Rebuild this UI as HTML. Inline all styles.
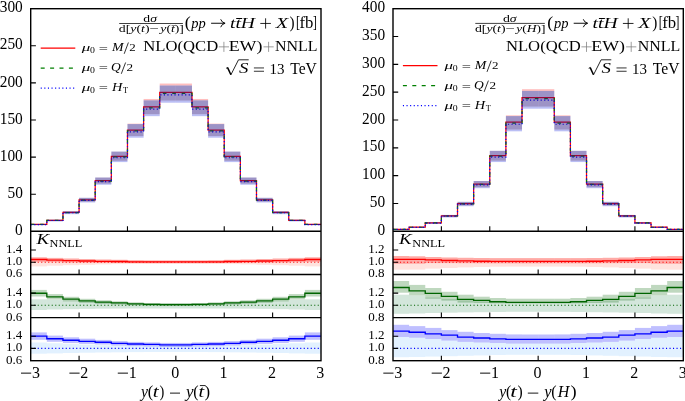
<!DOCTYPE html>
<html><head><meta charset="utf-8"><style>
html,body{margin:0;padding:0;background:#fff;}
svg{display:block;will-change:transform;}
text{font-family:"Liberation Serif",serif;fill:#000;}
</style></head><body>
<svg width="685" height="401" viewBox="0 0 685 401">
<rect width="685" height="401" fill="#fff"/>
<path d="M30.7,224.4H46.83V220.3H62.96V212.4H79.08V199.8H95.21V180.7H111.34V156.3H127.47V130H143.59V106.8H159.72V92.3H175.85V92.3H191.98V106.8H208.11V130H224.23V156.3H240.36V180.7H256.49V199.8H272.62V212.4H288.74V220.3H304.87V224.4H321" fill="none" stroke="#ff0000" stroke-width="1.25"/>
<path d="M30.7,224.46H46.83V220.39H62.96V212.55H79.08V200.05H95.21V181.1H111.34V156.9H127.47V130.81H143.59V107.8H159.72V93.41H175.85V93.41H191.98V107.8H208.11V130.81H224.23V156.9H240.36V181.1H256.49V200.05H272.62V212.55H288.74V220.39H304.87V224.46H321" fill="none" stroke="#008000" stroke-width="1.2" stroke-dasharray="3.6,5.8"/>
<path d="M30.7,224.53H46.83V220.51H62.96V212.76H79.08V200.4H95.21V181.66H111.34V157.73H127.47V131.92H143.59V109.17H159.72V94.94H175.85V94.94H191.98V109.17H208.11V131.92H224.23V157.73H240.36V181.66H256.49V200.4H272.62V212.76H288.74V220.51H304.87V224.53H321" fill="none" stroke="#0000ff" stroke-width="1.2" stroke-dasharray="1.2,2.35"/>
<g fill="#ff0000" fill-opacity="0.255"><rect x="30.7" y="223.97" width="16.13" height="0"/><rect x="46.83" y="219.61" width="16.13" height="0"/><rect x="62.96" y="211.21" width="16.13" height="0"/><rect x="79.08" y="197.82" width="16.13" height="0"/><rect x="95.21" y="177.51" width="16.13" height="0"/><rect x="111.34" y="151.58" width="16.13" height="0"/><rect x="127.47" y="123.62" width="16.13" height="0.45"/><rect x="143.59" y="98.96" width="16.13" height="1.38"/><rect x="159.72" y="83.54" width="16.13" height="1.96"/><rect x="175.85" y="83.54" width="16.13" height="1.96"/><rect x="191.98" y="98.96" width="16.13" height="1.38"/><rect x="208.11" y="123.62" width="16.13" height="0.45"/><rect x="224.23" y="151.58" width="16.13" height="0"/><rect x="240.36" y="177.51" width="16.13" height="0"/><rect x="256.49" y="197.82" width="16.13" height="0"/><rect x="272.62" y="211.21" width="16.13" height="0"/><rect x="288.74" y="219.61" width="16.13" height="0"/><rect x="304.87" y="223.97" width="16.13" height="0"/></g>
<g fill="#250f80" fill-opacity="0.45"><rect x="30.7" y="223.97" width="16.13" height="0.85"/><rect x="46.83" y="219.61" width="16.13" height="1.35"/><rect x="62.96" y="211.21" width="16.13" height="2.32"/><rect x="79.08" y="197.82" width="16.13" height="3.87"/><rect x="95.21" y="177.51" width="16.13" height="6.22"/><rect x="111.34" y="151.58" width="16.13" height="9.22"/><rect x="127.47" y="124.07" width="16.13" height="12.01"/><rect x="143.59" y="100.34" width="16.13" height="13.93"/><rect x="159.72" y="85.5" width="16.13" height="15.14"/><rect x="175.85" y="85.5" width="16.13" height="15.14"/><rect x="191.98" y="100.34" width="16.13" height="13.93"/><rect x="208.11" y="124.07" width="16.13" height="12.01"/><rect x="224.23" y="151.58" width="16.13" height="9.22"/><rect x="240.36" y="177.51" width="16.13" height="6.22"/><rect x="256.49" y="197.82" width="16.13" height="3.87"/><rect x="272.62" y="211.21" width="16.13" height="2.32"/><rect x="288.74" y="219.61" width="16.13" height="1.35"/><rect x="304.87" y="223.97" width="16.13" height="0.85"/></g>
<g fill="#000ed8" fill-opacity="0.27"><rect x="30.7" y="224.81" width="16.13" height="0.48"/><rect x="46.83" y="220.96" width="16.13" height="0.53"/><rect x="62.96" y="213.53" width="16.13" height="0.63"/><rect x="79.08" y="201.69" width="16.13" height="0.78"/><rect x="95.21" y="183.74" width="16.13" height="1.01"/><rect x="111.34" y="160.8" width="16.13" height="1.3"/><rect x="127.47" y="136.08" width="16.13" height="1.62"/><rect x="143.59" y="114.27" width="16.13" height="1.89"/><rect x="159.72" y="100.64" width="16.13" height="2.07"/><rect x="175.85" y="100.64" width="16.13" height="2.07"/><rect x="191.98" y="114.27" width="16.13" height="1.89"/><rect x="208.11" y="136.08" width="16.13" height="1.62"/><rect x="224.23" y="160.8" width="16.13" height="1.3"/><rect x="240.36" y="183.74" width="16.13" height="1.01"/><rect x="256.49" y="201.69" width="16.13" height="0.78"/><rect x="272.62" y="213.53" width="16.13" height="0.63"/><rect x="288.74" y="220.96" width="16.13" height="0.53"/><rect x="304.87" y="224.81" width="16.13" height="0.48"/></g>
<g fill="#ff6347" fill-opacity="0.18"><rect x="30.7" y="257.3" width="16.13" height="9.1"/><rect x="46.83" y="257.9" width="16.13" height="7.8"/><rect x="62.96" y="258.5" width="16.13" height="6.7"/><rect x="79.08" y="259" width="16.13" height="5.8"/><rect x="95.21" y="259.5" width="16.13" height="4.9"/><rect x="111.34" y="259.8" width="16.13" height="4.3"/><rect x="127.47" y="260.2" width="16.13" height="3.7"/><rect x="143.59" y="260.4" width="16.13" height="3.4"/><rect x="159.72" y="260.4" width="16.13" height="3.4"/><rect x="175.85" y="260.4" width="16.13" height="3.4"/><rect x="191.98" y="260.4" width="16.13" height="3.4"/><rect x="208.11" y="260.2" width="16.13" height="3.7"/><rect x="224.23" y="259.8" width="16.13" height="4.3"/><rect x="240.36" y="259.5" width="16.13" height="4.9"/><rect x="256.49" y="259" width="16.13" height="5.8"/><rect x="272.62" y="258.5" width="16.13" height="6.7"/><rect x="288.74" y="257.9" width="16.13" height="7.8"/><rect x="304.87" y="257.3" width="16.13" height="9.1"/></g>
<g fill="#ff0000" fill-opacity="0.25"><rect x="30.7" y="257.3" width="16.13" height="4.6"/><rect x="46.83" y="257.9" width="16.13" height="4.2"/><rect x="62.96" y="258.5" width="16.13" height="3.9"/><rect x="79.08" y="259" width="16.13" height="3.6"/><rect x="95.21" y="259.5" width="16.13" height="3.4"/><rect x="111.34" y="259.8" width="16.13" height="3.2"/><rect x="127.47" y="260.2" width="16.13" height="2.9"/><rect x="143.59" y="260.4" width="16.13" height="2.8"/><rect x="159.72" y="260.4" width="16.13" height="2.8"/><rect x="175.85" y="260.4" width="16.13" height="2.8"/><rect x="191.98" y="260.4" width="16.13" height="2.8"/><rect x="208.11" y="260.2" width="16.13" height="2.9"/><rect x="224.23" y="259.8" width="16.13" height="3.2"/><rect x="240.36" y="259.5" width="16.13" height="3.4"/><rect x="256.49" y="259" width="16.13" height="3.6"/><rect x="272.62" y="258.5" width="16.13" height="3.9"/><rect x="288.74" y="257.9" width="16.13" height="4.2"/><rect x="304.87" y="257.3" width="16.13" height="4.6"/></g>
<line x1="30.7" y1="262.2" x2="321" y2="262.2" stroke="#ff0000" stroke-width="1.1" stroke-dasharray="1.1,2.4"/>
<path d="M30.7,259.5H46.83V260.1H62.96V260.6H79.08V261H95.21V261.4H111.34V261.5H127.47V261.8H143.59V261.9H159.72V261.9H175.85V261.9H191.98V261.9H208.11V261.8H224.23V261.5H240.36V261.4H256.49V261H272.62V260.6H288.74V260.1H304.87V259.5H321" fill="none" stroke="#ff0000" stroke-width="1.35"/>
<path d="M30.7,262.2h5.2M30.7,250h5.2" stroke="#000" stroke-width="1.1" fill="none"/>
<path d="M79.08,274.5v-5M127.47,274.5v-5M175.85,274.5v-5M224.23,274.5v-5M272.62,274.5v-5" stroke="#000" stroke-width="1.1" fill="none"/>
<g fill="#2e8b57" fill-opacity="0.21"><rect x="30.7" y="299.3" width="16.13" height="10.7"/><rect x="46.83" y="299.8" width="16.13" height="9.7"/><rect x="62.96" y="300.5" width="16.13" height="8.7"/><rect x="79.08" y="301.2" width="16.13" height="7.7"/><rect x="95.21" y="301.8" width="16.13" height="6.9"/><rect x="111.34" y="302.4" width="16.13" height="6.2"/><rect x="127.47" y="303" width="16.13" height="5.5"/><rect x="143.59" y="303.4" width="16.13" height="5.1"/><rect x="159.72" y="303.5" width="16.13" height="5"/><rect x="175.85" y="303.5" width="16.13" height="5"/><rect x="191.98" y="303.4" width="16.13" height="5.1"/><rect x="208.11" y="303" width="16.13" height="5.5"/><rect x="224.23" y="302.4" width="16.13" height="6.2"/><rect x="240.36" y="301.8" width="16.13" height="6.9"/><rect x="256.49" y="301.2" width="16.13" height="7.7"/><rect x="272.62" y="300.5" width="16.13" height="8.7"/><rect x="288.74" y="299.8" width="16.13" height="9.7"/><rect x="304.87" y="299.3" width="16.13" height="10.7"/></g>
<g fill="#006400" fill-opacity="0.25"><rect x="30.7" y="289.9" width="16.13" height="6.6"/><rect x="46.83" y="294.1" width="16.13" height="5.4"/><rect x="62.96" y="296.8" width="16.13" height="4.6"/><rect x="79.08" y="298.8" width="16.13" height="4"/><rect x="95.21" y="300.3" width="16.13" height="3.6"/><rect x="111.34" y="301.3" width="16.13" height="3.2"/><rect x="127.47" y="302.3" width="16.13" height="3"/><rect x="143.59" y="303" width="16.13" height="2.8"/><rect x="159.72" y="303.2" width="16.13" height="2.8"/><rect x="175.85" y="303.2" width="16.13" height="2.8"/><rect x="191.98" y="303" width="16.13" height="2.8"/><rect x="208.11" y="302.3" width="16.13" height="3"/><rect x="224.23" y="301.3" width="16.13" height="3.2"/><rect x="240.36" y="300.3" width="16.13" height="3.6"/><rect x="256.49" y="298.8" width="16.13" height="4"/><rect x="272.62" y="296.8" width="16.13" height="4.6"/><rect x="288.74" y="294.1" width="16.13" height="5.4"/><rect x="304.87" y="289.9" width="16.13" height="6.6"/></g>
<line x1="30.7" y1="305.3" x2="321" y2="305.3" stroke="#006400" stroke-width="1.1" stroke-dasharray="1.1,2.4"/>
<path d="M30.7,293.2H46.83V296.8H62.96V299.1H79.08V300.8H95.21V302.1H111.34V302.9H127.47V303.8H143.59V304.4H159.72V304.6H175.85V304.6H191.98V304.4H208.11V303.8H224.23V302.9H240.36V302.1H256.49V300.8H272.62V299.1H288.74V296.8H304.87V293.2H321" fill="none" stroke="#006400" stroke-width="1.35"/>
<path d="M30.7,305.3h5.2M30.7,293.1h5.2" stroke="#000" stroke-width="1.1" fill="none"/>
<path d="M79.08,317.6v-5M127.47,317.6v-5M175.85,317.6v-5M224.23,317.6v-5M272.62,317.6v-5" stroke="#000" stroke-width="1.1" fill="none"/>
<g fill="#1e90ff" fill-opacity="0.13"><rect x="30.7" y="342.5" width="16.13" height="11.2"/><rect x="46.83" y="343.2" width="16.13" height="10.2"/><rect x="62.96" y="344" width="16.13" height="9"/><rect x="79.08" y="344.6" width="16.13" height="8.1"/><rect x="95.21" y="345.2" width="16.13" height="7.3"/><rect x="111.34" y="345.6" width="16.13" height="6.7"/><rect x="127.47" y="345.9" width="16.13" height="6.2"/><rect x="143.59" y="346" width="16.13" height="6"/><rect x="159.72" y="346" width="16.13" height="6"/><rect x="175.85" y="346" width="16.13" height="6"/><rect x="191.98" y="346" width="16.13" height="6"/><rect x="208.11" y="345.9" width="16.13" height="6.2"/><rect x="224.23" y="345.6" width="16.13" height="6.7"/><rect x="240.36" y="345.2" width="16.13" height="7.3"/><rect x="256.49" y="344.6" width="16.13" height="8.1"/><rect x="272.62" y="344" width="16.13" height="9"/><rect x="288.74" y="343.2" width="16.13" height="10.2"/><rect x="304.87" y="342.5" width="16.13" height="11.2"/></g>
<g fill="#0000ff" fill-opacity="0.25"><rect x="30.7" y="332.4" width="16.13" height="7.4"/><rect x="46.83" y="335.6" width="16.13" height="6.2"/><rect x="62.96" y="337.3" width="16.13" height="5.8"/><rect x="79.08" y="338.7" width="16.13" height="5.2"/><rect x="95.21" y="339.9" width="16.13" height="4.6"/><rect x="111.34" y="341.1" width="16.13" height="4.4"/><rect x="127.47" y="341.9" width="16.13" height="4.2"/><rect x="143.59" y="342.4" width="16.13" height="4"/><rect x="159.72" y="342.9" width="16.13" height="4"/><rect x="175.85" y="342.9" width="16.13" height="4"/><rect x="191.98" y="342.4" width="16.13" height="4"/><rect x="208.11" y="341.9" width="16.13" height="4.2"/><rect x="224.23" y="341.1" width="16.13" height="4.4"/><rect x="240.36" y="339.9" width="16.13" height="4.6"/><rect x="256.49" y="338.7" width="16.13" height="5.2"/><rect x="272.62" y="337.3" width="16.13" height="5.8"/><rect x="288.74" y="335.6" width="16.13" height="6.2"/><rect x="304.87" y="332.4" width="16.13" height="7.4"/></g>
<line x1="30.7" y1="348.4" x2="321" y2="348.4" stroke="#0000ff" stroke-width="1.1" stroke-dasharray="1.1,2.4"/>
<path d="M30.7,336.1H46.83V338.7H62.96V340.2H79.08V341.3H95.21V342.2H111.34V343.3H127.47V344H143.59V344.4H159.72V344.9H175.85V344.9H191.98V344.4H208.11V344H224.23V343.3H240.36V342.2H256.49V341.3H272.62V340.2H288.74V338.7H304.87V336.1H321" fill="none" stroke="#0000ff" stroke-width="1.35"/>
<path d="M30.7,348.4h5.2M30.7,336.2h5.2" stroke="#000" stroke-width="1.1" fill="none"/>
<path d="M79.08,360.7v-5M127.47,360.7v-5M175.85,360.7v-5M224.23,360.7v-5M272.62,360.7v-5" stroke="#000" stroke-width="1.1" fill="none"/>
<path d="M30.7,194.2h5.2M30.7,157.1h5.2M30.7,120h5.2M30.7,82.9h5.2M30.7,45.8h5.2M79.08,231.3v-5M127.47,231.3v-5M175.85,231.3v-5M224.23,231.3v-5M272.62,231.3v-5" stroke="#000" stroke-width="1.1" fill="none"/>
<rect x="30.7" y="8.7" width="290.3" height="352" fill="none" stroke="#000" stroke-width="1.4"/>
<line x1="30.7" y1="231.3" x2="321" y2="231.3" stroke="#000" stroke-width="1.4"/>
<line x1="30.7" y1="274.5" x2="321" y2="274.5" stroke="#000" stroke-width="1.4"/>
<line x1="30.7" y1="317.6" x2="321" y2="317.6" stroke="#000" stroke-width="1.4"/>
<path d="M393,229.4H409.13V227.2H425.26V222.9H441.38V215.9H457.51V203.6H473.64V184H489.77V155.6H505.89V122.2H522.02V97.6H538.15V97.6H554.28V122.2H570.41V155.6H586.53V184H602.66V203.6H618.79V215.9H634.92V222.9H651.04V227.2H667.17V229.4H683.3" fill="none" stroke="#ff0000" stroke-width="1.25"/>
<path d="M393,229.42H409.13V227.23H425.26V222.97H441.38V216.02H457.51V203.82H473.64V184.38H489.77V156.21H505.89V123.07H522.02V98.67H538.15V98.67H554.28V123.07H570.41V156.21H586.53V184.38H602.66V203.82H618.79V216.02H634.92V222.97H651.04V227.23H667.17V229.42H683.3" fill="none" stroke="#008000" stroke-width="1.2" stroke-dasharray="3.6,5.8"/>
<path d="M393,229.44H409.13V227.28H425.26V223.06H441.38V216.19H457.51V204.13H473.64V184.9H489.77V157.04H505.89V124.27H522.02V100.14H538.15V100.14H554.28V124.27H570.41V157.04H586.53V184.9H602.66V204.13H618.79V216.19H634.92V223.06H651.04V227.28H667.17V229.44H683.3" fill="none" stroke="#0000ff" stroke-width="1.2" stroke-dasharray="1.2,2.35"/>
<g fill="#ff0000" fill-opacity="0.255"><rect x="393" y="229.28" width="16.13" height="0"/><rect x="409.13" y="226.94" width="16.13" height="0"/><rect x="425.26" y="222.37" width="16.13" height="0"/><rect x="441.38" y="214.93" width="16.13" height="0"/><rect x="457.51" y="201.85" width="16.13" height="0"/><rect x="473.64" y="181.02" width="16.13" height="0"/><rect x="489.77" y="150.83" width="16.13" height="0"/><rect x="505.89" y="115.33" width="16.13" height="0.76"/><rect x="522.02" y="89.18" width="16.13" height="1.75"/><rect x="538.15" y="89.18" width="16.13" height="1.75"/><rect x="554.28" y="115.33" width="16.13" height="0.76"/><rect x="570.41" y="150.83" width="16.13" height="0"/><rect x="586.53" y="181.02" width="16.13" height="0"/><rect x="602.66" y="201.85" width="16.13" height="0"/><rect x="618.79" y="214.93" width="16.13" height="0"/><rect x="634.92" y="222.37" width="16.13" height="0"/><rect x="651.04" y="226.94" width="16.13" height="0"/><rect x="667.17" y="229.28" width="16.13" height="0"/></g>
<g fill="#250f80" fill-opacity="0.45"><rect x="393" y="229.28" width="16.13" height="0.25"/><rect x="409.13" y="226.94" width="16.13" height="0.54"/><rect x="425.26" y="222.37" width="16.13" height="1.1"/><rect x="441.38" y="214.93" width="16.13" height="2.02"/><rect x="457.51" y="201.85" width="16.13" height="3.63"/><rect x="473.64" y="181.02" width="16.13" height="6.2"/><rect x="489.77" y="150.83" width="16.13" height="9.92"/><rect x="505.89" y="116.09" width="16.13" height="13.53"/><rect x="522.02" y="90.92" width="16.13" height="15.77"/><rect x="538.15" y="90.92" width="16.13" height="15.77"/><rect x="554.28" y="116.09" width="16.13" height="13.53"/><rect x="570.41" y="150.83" width="16.13" height="9.92"/><rect x="586.53" y="181.02" width="16.13" height="6.2"/><rect x="602.66" y="201.85" width="16.13" height="3.63"/><rect x="618.79" y="214.93" width="16.13" height="2.02"/><rect x="634.92" y="222.37" width="16.13" height="1.1"/><rect x="651.04" y="226.94" width="16.13" height="0.54"/><rect x="667.17" y="229.28" width="16.13" height="0.25"/></g>
<g fill="#000ed8" fill-opacity="0.27"><rect x="393" y="229.53" width="16.13" height="0.42"/><rect x="409.13" y="227.48" width="16.13" height="0.45"/><rect x="425.26" y="223.47" width="16.13" height="0.5"/><rect x="441.38" y="216.95" width="16.13" height="0.58"/><rect x="457.51" y="205.48" width="16.13" height="0.73"/><rect x="473.64" y="187.22" width="16.13" height="0.97"/><rect x="489.77" y="160.75" width="16.13" height="1.31"/><rect x="505.89" y="129.62" width="16.13" height="1.71"/><rect x="522.02" y="106.69" width="16.13" height="2"/><rect x="538.15" y="106.69" width="16.13" height="2"/><rect x="554.28" y="129.62" width="16.13" height="1.71"/><rect x="570.41" y="160.75" width="16.13" height="1.31"/><rect x="586.53" y="187.22" width="16.13" height="0.97"/><rect x="602.66" y="205.48" width="16.13" height="0.73"/><rect x="618.79" y="216.95" width="16.13" height="0.58"/><rect x="634.92" y="223.47" width="16.13" height="0.5"/><rect x="651.04" y="227.48" width="16.13" height="0.45"/><rect x="667.17" y="229.53" width="16.13" height="0.42"/></g>
<g fill="#ff6347" fill-opacity="0.18"><rect x="393" y="256" width="16.13" height="13.7"/><rect x="409.13" y="256.3" width="16.13" height="13.3"/><rect x="425.26" y="257" width="16.13" height="11.6"/><rect x="441.38" y="257.5" width="16.13" height="10.5"/><rect x="457.51" y="257.8" width="16.13" height="9.6"/><rect x="473.64" y="258" width="16.13" height="9"/><rect x="489.77" y="258.1" width="16.13" height="8.6"/><rect x="505.89" y="258.1" width="16.13" height="8.5"/><rect x="522.02" y="258.1" width="16.13" height="8.5"/><rect x="538.15" y="258.1" width="16.13" height="8.5"/><rect x="554.28" y="258.1" width="16.13" height="8.5"/><rect x="570.41" y="258.1" width="16.13" height="8.6"/><rect x="586.53" y="258" width="16.13" height="9"/><rect x="602.66" y="257.8" width="16.13" height="9.6"/><rect x="618.79" y="257.5" width="16.13" height="10.5"/><rect x="634.92" y="257" width="16.13" height="11.6"/><rect x="651.04" y="256.3" width="16.13" height="13.3"/><rect x="667.17" y="256" width="16.13" height="13.7"/></g>
<g fill="#ff0000" fill-opacity="0.25"><rect x="393" y="256" width="16.13" height="7.9"/><rect x="409.13" y="256.3" width="16.13" height="7.5"/><rect x="425.26" y="257" width="16.13" height="6.1"/><rect x="441.38" y="257.5" width="16.13" height="5.6"/><rect x="457.51" y="257.8" width="16.13" height="5.4"/><rect x="473.64" y="258" width="16.13" height="5.3"/><rect x="489.77" y="258.1" width="16.13" height="5.3"/><rect x="505.89" y="258.1" width="16.13" height="5.3"/><rect x="522.02" y="258.1" width="16.13" height="5.3"/><rect x="538.15" y="258.1" width="16.13" height="5.3"/><rect x="554.28" y="258.1" width="16.13" height="5.3"/><rect x="570.41" y="258.1" width="16.13" height="5.3"/><rect x="586.53" y="258" width="16.13" height="5.3"/><rect x="602.66" y="257.8" width="16.13" height="5.4"/><rect x="618.79" y="257.5" width="16.13" height="5.6"/><rect x="634.92" y="257" width="16.13" height="6.1"/><rect x="651.04" y="256.3" width="16.13" height="7.5"/><rect x="667.17" y="256" width="16.13" height="7.9"/></g>
<line x1="393" y1="262.2" x2="683.3" y2="262.2" stroke="#ff0000" stroke-width="1.1" stroke-dasharray="1.1,2.4"/>
<path d="M393,259.3H409.13V259.3H425.26V259.9H441.38V260.5H457.51V260.9H473.64V261.2H489.77V261.4H505.89V261.4H522.02V261.4H538.15V261.4H554.28V261.4H570.41V261.4H586.53V261.2H602.66V260.9H618.79V260.5H634.92V259.9H651.04V259.3H667.17V259.3H683.3" fill="none" stroke="#ff0000" stroke-width="1.35"/>
<path d="M393,262.2h5.2M393,250h5.2" stroke="#000" stroke-width="1.1" fill="none"/>
<path d="M441.38,274.5v-5M489.77,274.5v-5M538.15,274.5v-5M586.53,274.5v-5M634.92,274.5v-5" stroke="#000" stroke-width="1.1" fill="none"/>
<g fill="#2e8b57" fill-opacity="0.21"><rect x="393" y="294.7" width="16.13" height="19.1"/><rect x="409.13" y="295.5" width="16.13" height="18"/><rect x="425.26" y="297.5" width="16.13" height="15.5"/><rect x="441.38" y="299" width="16.13" height="13.7"/><rect x="457.51" y="300.5" width="16.13" height="11.9"/><rect x="473.64" y="301.5" width="16.13" height="10.7"/><rect x="489.77" y="302.5" width="16.13" height="9.5"/><rect x="505.89" y="303.2" width="16.13" height="8.6"/><rect x="522.02" y="303.3" width="16.13" height="8.5"/><rect x="538.15" y="303.3" width="16.13" height="8.5"/><rect x="554.28" y="303.2" width="16.13" height="8.6"/><rect x="570.41" y="302.5" width="16.13" height="9.5"/><rect x="586.53" y="301.5" width="16.13" height="10.7"/><rect x="602.66" y="300.5" width="16.13" height="11.9"/><rect x="618.79" y="299" width="16.13" height="13.7"/><rect x="634.92" y="297.5" width="16.13" height="15.5"/><rect x="651.04" y="295.5" width="16.13" height="18"/><rect x="667.17" y="294.7" width="16.13" height="19.1"/></g>
<g fill="#006400" fill-opacity="0.25"><rect x="393" y="281" width="16.13" height="11.7"/><rect x="409.13" y="284.9" width="16.13" height="10.5"/><rect x="425.26" y="288" width="16.13" height="10.7"/><rect x="441.38" y="291.8" width="16.13" height="8.8"/><rect x="457.51" y="294.7" width="16.13" height="7.9"/><rect x="473.64" y="296.7" width="16.13" height="6.3"/><rect x="489.77" y="298" width="16.13" height="5.3"/><rect x="505.89" y="298.7" width="16.13" height="4.9"/><rect x="522.02" y="298.7" width="16.13" height="4.9"/><rect x="538.15" y="298.7" width="16.13" height="4.9"/><rect x="554.28" y="298.7" width="16.13" height="4.9"/><rect x="570.41" y="298" width="16.13" height="5.3"/><rect x="586.53" y="296.7" width="16.13" height="6.3"/><rect x="602.66" y="294.7" width="16.13" height="7.9"/><rect x="618.79" y="291.8" width="16.13" height="8.8"/><rect x="634.92" y="288" width="16.13" height="10.7"/><rect x="651.04" y="284.9" width="16.13" height="10.5"/><rect x="667.17" y="281" width="16.13" height="11.7"/></g>
<line x1="393" y1="305.3" x2="683.3" y2="305.3" stroke="#006400" stroke-width="1.1" stroke-dasharray="1.1,2.4"/>
<path d="M393,287.5H409.13V290.8H425.26V293.4H441.38V296.4H457.51V299.3H473.64V300.4H489.77V301.7H505.89V302.3H522.02V302.3H538.15V302.3H554.28V302.3H570.41V301.7H586.53V300.4H602.66V299.3H618.79V296.4H634.92V293.4H651.04V290.8H667.17V287.5H683.3" fill="none" stroke="#006400" stroke-width="1.35"/>
<path d="M393,305.3h5.2M393,293.1h5.2" stroke="#000" stroke-width="1.1" fill="none"/>
<path d="M441.38,317.6v-5M489.77,317.6v-5M538.15,317.6v-5M586.53,317.6v-5M634.92,317.6v-5" stroke="#000" stroke-width="1.1" fill="none"/>
<g fill="#1e90ff" fill-opacity="0.13"><rect x="393" y="337" width="16.13" height="20.2"/><rect x="409.13" y="337.7" width="16.13" height="19.3"/><rect x="425.26" y="339" width="16.13" height="17.6"/><rect x="441.38" y="340.6" width="16.13" height="15.6"/><rect x="457.51" y="341.9" width="16.13" height="13.9"/><rect x="473.64" y="342.5" width="16.13" height="12.9"/><rect x="489.77" y="343" width="16.13" height="12"/><rect x="505.89" y="343.6" width="16.13" height="11.2"/><rect x="522.02" y="343.6" width="16.13" height="11.2"/><rect x="538.15" y="343.6" width="16.13" height="11.2"/><rect x="554.28" y="343.6" width="16.13" height="11.2"/><rect x="570.41" y="343" width="16.13" height="12"/><rect x="586.53" y="342.5" width="16.13" height="12.9"/><rect x="602.66" y="341.9" width="16.13" height="13.9"/><rect x="618.79" y="340.6" width="16.13" height="15.6"/><rect x="634.92" y="339" width="16.13" height="17.6"/><rect x="651.04" y="337.7" width="16.13" height="19.3"/><rect x="667.17" y="337" width="16.13" height="20.2"/></g>
<g fill="#0000ff" fill-opacity="0.25"><rect x="393" y="324.8" width="16.13" height="12.2"/><rect x="409.13" y="326.1" width="16.13" height="11.6"/><rect x="425.26" y="327.9" width="16.13" height="11.1"/><rect x="441.38" y="330.1" width="16.13" height="10.5"/><rect x="457.51" y="331.8" width="16.13" height="10.1"/><rect x="473.64" y="333" width="16.13" height="9.5"/><rect x="489.77" y="333.8" width="16.13" height="9.2"/><rect x="505.89" y="334.4" width="16.13" height="9.2"/><rect x="522.02" y="334.5" width="16.13" height="9.1"/><rect x="538.15" y="334.5" width="16.13" height="9.1"/><rect x="554.28" y="334.4" width="16.13" height="9.2"/><rect x="570.41" y="333.8" width="16.13" height="9.2"/><rect x="586.53" y="333" width="16.13" height="9.5"/><rect x="602.66" y="331.8" width="16.13" height="10.1"/><rect x="618.79" y="330.1" width="16.13" height="10.5"/><rect x="634.92" y="327.9" width="16.13" height="11.1"/><rect x="651.04" y="326.1" width="16.13" height="11.6"/><rect x="667.17" y="324.8" width="16.13" height="12.2"/></g>
<line x1="393" y1="348.4" x2="683.3" y2="348.4" stroke="#0000ff" stroke-width="1.1" stroke-dasharray="1.1,2.4"/>
<path d="M393,331.1H409.13V332.2H425.26V333.8H441.38V335.1H457.51V337.1H473.64V338H489.77V338.8H505.89V339.3H522.02V339.4H538.15V339.4H554.28V339.3H570.41V338.8H586.53V338H602.66V337.1H618.79V335.1H634.92V333.8H651.04V332.2H667.17V331.1H683.3" fill="none" stroke="#0000ff" stroke-width="1.35"/>
<path d="M393,348.4h5.2M393,336.2h5.2" stroke="#000" stroke-width="1.1" fill="none"/>
<path d="M441.38,360.7v-5M489.77,360.7v-5M538.15,360.7v-5M586.53,360.7v-5M634.92,360.7v-5" stroke="#000" stroke-width="1.1" fill="none"/>
<path d="M393,203.48h5.2M393,175.65h5.2M393,147.83h5.2M393,120h5.2M393,92.17h5.2M393,64.35h5.2M393,36.52h5.2M441.38,231.3v-5M489.77,231.3v-5M538.15,231.3v-5M586.53,231.3v-5M634.92,231.3v-5" stroke="#000" stroke-width="1.1" fill="none"/>
<rect x="393" y="8.7" width="290.3" height="352" fill="none" stroke="#000" stroke-width="1.4"/>
<line x1="393" y1="231.3" x2="683.3" y2="231.3" stroke="#000" stroke-width="1.4"/>
<line x1="393" y1="274.5" x2="683.3" y2="274.5" stroke="#000" stroke-width="1.4"/>
<line x1="393" y1="317.6" x2="683.3" y2="317.6" stroke="#000" stroke-width="1.4"/>
<rect x="170.00" y="392.65" width="10.00" height="0.9"/>
<rect x="527.80" y="392.65" width="10.50" height="0.9"/>
<rect x="199.9" y="385.2" width="5.4" height="0.85"/>
<path d="M128.40,42.50L124.20,53.80" stroke="#000" stroke-width="0.8"/>
<path d="M125.60,62.50L121.30,73.80" stroke="#000" stroke-width="0.8"/>
<path d="M491.20,60.60L487.00,71.90" stroke="#000" stroke-width="0.8"/>
<path d="M488.40,80.60L484.10,91.90" stroke="#000" stroke-width="0.8"/>
<path d="M260.30,23.45H270.90M265.60,18.3V28.6" stroke="#000" stroke-width="0.85" fill="none"/>
<path d="M211.1,23.25H224.6M220.7,19.3Q221.6,22.4 225.1,23.25Q221.6,24.1 220.7,27.2" transform="translate(0,0)" fill="none" stroke="#000" stroke-width="0.95"/>
<path d="M218.80,46.85H229.00M223.90,41.8V51.9" stroke="#7d7d7d" stroke-width="0.75" fill="none"/>
<path d="M263.50,46.85H273.70M268.60,41.8V51.9" stroke="#7d7d7d" stroke-width="0.75" fill="none"/>
<g transform="translate(0,0)"><path d="M226.1,68.3L227.9,67.4" stroke="#000" stroke-width="0.9" fill="none"/><path d="M227.6,67.6L230.9,74.8" stroke="#000" stroke-width="1.5" fill="none"/><path d="M230.9,74.8L238.5,59.8H248.7" stroke="#000" stroke-width="0.85" fill="none"/></g>
<path d="M253.90,67.95H264.00M253.90,71.25H264.00" stroke="#000" stroke-width="0.8" fill="none"/>
<path d="M622.90,23.45H633.50M628.20,18.3V28.6" stroke="#000" stroke-width="0.85" fill="none"/>
<path d="M211.1,23.25H224.6M220.7,19.3Q221.6,22.4 225.1,23.25Q221.6,24.1 220.7,27.2" transform="translate(362.6,0)" fill="none" stroke="#000" stroke-width="0.95"/>
<path d="M581.40,46.85H591.60M586.50,41.8V51.9" stroke="#7d7d7d" stroke-width="0.75" fill="none"/>
<path d="M626.10,46.85H636.30M631.20,41.8V51.9" stroke="#7d7d7d" stroke-width="0.75" fill="none"/>
<g transform="translate(362.6,0)"><path d="M226.1,68.3L227.9,67.4" stroke="#000" stroke-width="0.9" fill="none"/><path d="M227.6,67.6L230.9,74.8" stroke="#000" stroke-width="1.5" fill="none"/><path d="M230.9,74.8L238.5,59.8H248.7" stroke="#000" stroke-width="0.85" fill="none"/></g>
<path d="M616.50,67.95H626.60M616.50,71.25H626.60" stroke="#000" stroke-width="0.8" fill="none"/>
<line x1="119.2" y1="23.5" x2="182.9" y2="23.5" stroke="#000" stroke-width="0.75"/>
<line x1="475.3" y1="23.4" x2="544.8" y2="23.4" stroke="#000" stroke-width="0.75"/>
<g transform="translate(0,0.25)"><line x1="40.7" y1="47.9" x2="75.3" y2="47.9" stroke="#ff0000" stroke-width="1.3"/><line x1="40.7" y1="67.9" x2="73.0" y2="67.9" stroke="#007f00" stroke-width="1.3" stroke-dasharray="4,5.4"/><line x1="40.7" y1="87.8" x2="74.2" y2="87.8" stroke="#0000ff" stroke-width="1.2" stroke-dasharray="1.1,2.5"/></g>
<g transform="translate(362.2,17.8)"><line x1="40.7" y1="47.9" x2="75.3" y2="47.9" stroke="#ff0000" stroke-width="1.3"/><line x1="40.7" y1="67.9" x2="73.0" y2="67.9" stroke="#007f00" stroke-width="1.3" stroke-dasharray="4,5.4"/><line x1="40.7" y1="87.8" x2="74.2" y2="87.8" stroke="#0000ff" stroke-width="1.2" stroke-dasharray="1.1,2.5"/></g>
<text transform="translate(140.93,396.80) scale(0.9818,1.0000)" font-size="16"><tspan font-style="italic">y</tspan></text>
<text transform="translate(147.63,396.80) scale(1.0250,1.0727)" font-size="16">(</text>
<text transform="translate(152.71,396.80) scale(1.3250,1.0000)" font-size="16"><tspan font-style="italic">t</tspan></text>
<text transform="translate(159.55,396.80) scale(0.9000,1.0727)" font-size="16">)</text>
<text transform="translate(185.93,396.80) scale(1.0667,1.0000)" font-size="16"><tspan font-style="italic">y</tspan></text>
<text transform="translate(193.25,396.80) scale(1.0000,1.0727)" font-size="16">(</text>
<text transform="translate(198.44,396.80) scale(1.2750,1.0000)" font-size="16"><tspan font-style="italic">t</tspan></text>
<text transform="translate(204.47,396.80) scale(1.0500,1.0727)" font-size="16">)</text>
<text transform="translate(499.23,396.80) scale(0.9818,1.0000)" font-size="16"><tspan font-style="italic">y</tspan></text>
<text transform="translate(506.07,396.80) scale(0.9750,1.0727)" font-size="16">(</text>
<text transform="translate(510.29,396.80) scale(1.4750,1.0000)" font-size="16"><tspan font-style="italic">t</tspan></text>
<text transform="translate(517.51,396.80) scale(0.9750,1.0727)" font-size="16">)</text>
<text transform="translate(544.29,396.80) scale(1.0303,1.0000)" font-size="16"><tspan font-style="italic">y</tspan></text>
<text transform="translate(551.35,396.80) scale(1.0000,1.0727)" font-size="16">(</text>
<text transform="translate(557.65,396.80) scale(1.0000,1.0000)" font-size="16"><tspan font-style="italic">H</tspan></text>
<text transform="translate(570.62,396.80) scale(1.1500,1.0727)" font-size="16">)</text>
<text transform="translate(36.42,244.40) scale(1.2952,1.0632)" font-size="14.6"><tspan font-style="italic">K</tspan></text>
<text transform="translate(49.61,247.00) scale(1.1596,1.0571)" font-size="10.6">NNLL</text>
<text transform="translate(399.12,244.40) scale(1.2952,1.0632)" font-size="14.6"><tspan font-style="italic">K</tspan></text>
<text transform="translate(412.31,247.00) scale(1.1596,1.0571)" font-size="10.6">NNLL</text>
<text transform="translate(81.70,51.10) scale(1.5429,1.0000)" font-size="11"><tspan font-style="italic">μ</tspan></text>
<text transform="translate(89.98,52.80) scale(1.2615,1.0000)" font-size="7.8">0</text>
<text transform="translate(98.86,51.50) scale(1.4857,1.0000)" font-size="11">=</text>
<text transform="translate(111.90,51.10) scale(1.2632,1.0483)" font-size="11"><tspan font-style="italic">M</tspan></text>
<text transform="translate(129.21,51.10) scale(1.1778,0.9655)" font-size="11">2</text>
<text transform="translate(81.70,71.00) scale(1.5429,1.0000)" font-size="11"><tspan font-style="italic">μ</tspan></text>
<text transform="translate(89.98,72.70) scale(1.2615,1.0000)" font-size="7.8">0</text>
<text transform="translate(98.86,71.40) scale(1.4857,1.0000)" font-size="11">=</text>
<text transform="translate(111.09,71.00) scale(1.2276,1.0897)" font-size="11"><tspan font-style="italic">Q</tspan></text>
<text transform="translate(126.60,71.00) scale(1.2000,0.9655)" font-size="11">2</text>
<text transform="translate(81.70,90.90) scale(1.5429,1.0000)" font-size="11"><tspan font-style="italic">μ</tspan></text>
<text transform="translate(89.98,92.60) scale(1.2615,1.0000)" font-size="7.8">0</text>
<text transform="translate(98.86,91.30) scale(1.4857,1.0000)" font-size="11">=</text>
<text transform="translate(111.90,90.90) scale(1.3059,1.0483)" font-size="11"><tspan font-style="italic">H</tspan></text>
<text transform="translate(122.93,92.60) scale(1.0667,1.0000)" font-size="7.8">T</text>
<text transform="translate(444.50,69.20) scale(1.5429,1.0000)" font-size="11"><tspan font-style="italic">μ</tspan></text>
<text transform="translate(452.78,70.90) scale(1.2615,1.0000)" font-size="7.8">0</text>
<text transform="translate(461.66,69.60) scale(1.4857,1.0000)" font-size="11">=</text>
<text transform="translate(474.70,69.20) scale(1.2632,1.0483)" font-size="11"><tspan font-style="italic">M</tspan></text>
<text transform="translate(492.01,69.20) scale(1.1778,0.9655)" font-size="11">2</text>
<text transform="translate(444.50,89.10) scale(1.5429,1.0000)" font-size="11"><tspan font-style="italic">μ</tspan></text>
<text transform="translate(452.78,90.80) scale(1.2615,1.0000)" font-size="7.8">0</text>
<text transform="translate(461.66,89.50) scale(1.4857,1.0000)" font-size="11">=</text>
<text transform="translate(473.89,89.10) scale(1.2276,1.0897)" font-size="11"><tspan font-style="italic">Q</tspan></text>
<text transform="translate(489.40,89.10) scale(1.2000,0.9655)" font-size="11">2</text>
<text transform="translate(444.50,109.00) scale(1.5429,1.0000)" font-size="11"><tspan font-style="italic">μ</tspan></text>
<text transform="translate(452.78,110.70) scale(1.2615,1.0000)" font-size="7.8">0</text>
<text transform="translate(461.66,109.40) scale(1.4857,1.0000)" font-size="11">=</text>
<text transform="translate(474.70,109.00) scale(1.3059,1.0483)" font-size="11"><tspan font-style="italic">H</tspan></text>
<text transform="translate(485.73,110.70) scale(1.0667,1.0000)" font-size="7.8">T</text>
<text transform="translate(184.68,27.70) scale(1.2267,1.1700)" font-size="14.6">(</text>
<text transform="translate(191.34,27.70) scale(0.9933,1.0000)" font-size="14.6"><tspan font-style="italic">pp</tspan></text>
<text transform="translate(229.99,27.70) scale(1.3405,1.0000)" font-size="14.6"><tspan font-style="italic">tt̄H</tspan></text>
<text transform="translate(275.69,27.70) scale(1.3846,1.0000)" font-size="14.6"><tspan font-style="italic">X</tspan></text>
<text transform="translate(289.58,27.70) scale(1.0400,1.1800)" font-size="14.6">)</text>
<text transform="translate(296.07,27.70) scale(0.8308,1.2000)" font-size="14.6">[</text>
<text transform="translate(299.53,27.70) scale(1.1455,1.1122)" font-size="14.6">fb</text>
<text transform="translate(312.90,27.70) scale(0.8000,1.2000)" font-size="14.6">]</text>
<text transform="translate(143.33,50.80) scale(1.1411,0.9800)" font-size="14.6">NLO(QCD</text>
<text transform="translate(228.69,50.80) scale(1.2264,0.9800)" font-size="14.6">EW)</text>
<text transform="translate(275.05,50.80) scale(1.0933,1.0316)" font-size="14.6">NNLL</text>
<text transform="translate(238.88,73.40) scale(1.2889,1.0000)" font-size="14.6"><tspan font-style="italic">S</tspan></text>
<text transform="translate(269.52,73.50) scale(1.0275,1.0667)" font-size="14.6">13</text>
<text transform="translate(290.23,73.50) scale(1.0694,1.0947)" font-size="14.6">TeV</text>
<text transform="translate(547.28,27.70) scale(1.2267,1.1700)" font-size="14.6">(</text>
<text transform="translate(553.95,27.70) scale(0.9933,1.0000)" font-size="14.6"><tspan font-style="italic">pp</tspan></text>
<text transform="translate(592.59,27.70) scale(1.3405,1.0000)" font-size="14.6"><tspan font-style="italic">tt̄H</tspan></text>
<text transform="translate(638.29,27.70) scale(1.3846,1.0000)" font-size="14.6"><tspan font-style="italic">X</tspan></text>
<text transform="translate(652.18,27.70) scale(1.0400,1.1800)" font-size="14.6">)</text>
<text transform="translate(658.67,27.70) scale(0.8308,1.2000)" font-size="14.6">[</text>
<text transform="translate(662.13,27.70) scale(1.1455,1.1122)" font-size="14.6">fb</text>
<text transform="translate(675.50,27.70) scale(0.8000,1.2000)" font-size="14.6">]</text>
<text transform="translate(505.93,50.80) scale(1.1411,0.9800)" font-size="14.6">NLO(QCD</text>
<text transform="translate(591.29,50.80) scale(1.2264,0.9800)" font-size="14.6">EW)</text>
<text transform="translate(637.65,50.80) scale(1.0933,1.0316)" font-size="14.6">NNLL</text>
<text transform="translate(601.48,73.40) scale(1.2889,1.0000)" font-size="14.6"><tspan font-style="italic">S</tspan></text>
<text transform="translate(632.12,73.50) scale(1.0275,1.0667)" font-size="14.6">13</text>
<text transform="translate(652.83,73.50) scale(1.0694,1.0947)" font-size="14.6">TeV</text>
<text transform="translate(143.34,21.50) scale(1.3200,1.0000)" font-size="10.3">d<tspan font-style="italic">σ</tspan></text>
<text transform="translate(118.83,32.40) scale(1.3409,1.0000)" font-size="10.3">d[<tspan font-style="italic">y</tspan>(<tspan font-style="italic">t</tspan>)</text>
<text transform="translate(149.69,32.40) scale(1.6211,1.0000)" font-size="10.3">−</text>
<text transform="translate(160.30,32.40) scale(1.3352,1.0000)" font-size="10.3"><tspan font-style="italic">y</tspan>(<tspan font-style="italic">t̄</tspan>)]</text>
<text transform="translate(502.93,21.60) scale(1.3400,1.0000)" font-size="10.3">d<tspan font-style="italic">σ</tspan></text>
<text transform="translate(474.93,32.30) scale(1.3364,1.0000)" font-size="10.3">d[<tspan font-style="italic">y</tspan>(<tspan font-style="italic">t</tspan>)</text>
<text transform="translate(505.69,32.30) scale(1.6211,1.0000)" font-size="10.3">−</text>
<text transform="translate(516.28,32.30) scale(1.3124,1.0000)" font-size="10.3"><tspan font-style="italic">y</tspan>(<tspan font-style="italic">H</tspan>)]</text>
<text transform="translate(22.80,234.95) scale(0.96,1)" font-size="16" text-anchor="end">0</text>
<text transform="translate(22.80,197.85) scale(0.96,1)" font-size="16" text-anchor="end">50</text>
<text transform="translate(22.80,160.75) scale(0.96,1)" font-size="16" text-anchor="end">100</text>
<text transform="translate(22.80,123.65) scale(0.96,1)" font-size="16" text-anchor="end">150</text>
<text transform="translate(22.80,86.55) scale(0.96,1)" font-size="16" text-anchor="end">200</text>
<text transform="translate(22.80,49.45) scale(0.96,1)" font-size="16" text-anchor="end">250</text>
<text transform="translate(22.80,12.35) scale(0.96,1)" font-size="16" text-anchor="end">300</text>
<text transform="translate(22.30,253.05) scale(1.06,1)" font-size="12.3" text-anchor="end">1.4</text>
<text transform="translate(22.30,265.25) scale(1.06,1)" font-size="12.3" text-anchor="end">1.0</text>
<text transform="translate(22.30,277.45) scale(1.06,1)" font-size="12.3" text-anchor="end">0.6</text>
<text transform="translate(22.30,296.15) scale(1.06,1)" font-size="12.3" text-anchor="end">1.4</text>
<text transform="translate(22.30,308.35) scale(1.06,1)" font-size="12.3" text-anchor="end">1.0</text>
<text transform="translate(22.30,320.55) scale(1.06,1)" font-size="12.3" text-anchor="end">0.6</text>
<text transform="translate(22.30,339.25) scale(1.06,1)" font-size="12.3" text-anchor="end">1.4</text>
<text transform="translate(22.30,351.45) scale(1.06,1)" font-size="12.3" text-anchor="end">1.0</text>
<text transform="translate(22.30,363.65) scale(1.06,1)" font-size="12.3" text-anchor="end">0.6</text>
<rect x="21.00" y="372.65" width="10.2" height="0.95"/>
<text x="35.90" y="377.5" font-size="16" text-anchor="middle">3</text>
<rect x="69.38" y="372.65" width="10.2" height="0.95"/>
<text x="84.28" y="377.5" font-size="16" text-anchor="middle">2</text>
<rect x="117.77" y="372.65" width="10.2" height="0.95"/>
<text x="132.67" y="377.5" font-size="16" text-anchor="middle">1</text>
<text x="175.20" y="377.5" font-size="16" text-anchor="middle">0</text>
<text x="223.58" y="377.5" font-size="16" text-anchor="middle">1</text>
<text x="271.97" y="377.5" font-size="16" text-anchor="middle">2</text>
<text x="320.35" y="377.5" font-size="16" text-anchor="middle">3</text>
<text transform="translate(385.10,234.95) scale(0.96,1)" font-size="16" text-anchor="end">0</text>
<text transform="translate(385.10,207.13) scale(0.96,1)" font-size="16" text-anchor="end">50</text>
<text transform="translate(385.10,179.30) scale(0.96,1)" font-size="16" text-anchor="end">100</text>
<text transform="translate(385.10,151.48) scale(0.96,1)" font-size="16" text-anchor="end">150</text>
<text transform="translate(385.10,123.65) scale(0.96,1)" font-size="16" text-anchor="end">200</text>
<text transform="translate(385.10,95.82) scale(0.96,1)" font-size="16" text-anchor="end">250</text>
<text transform="translate(385.10,68.00) scale(0.96,1)" font-size="16" text-anchor="end">300</text>
<text transform="translate(385.10,40.17) scale(0.96,1)" font-size="16" text-anchor="end">350</text>
<text transform="translate(385.10,12.35) scale(0.96,1)" font-size="16" text-anchor="end">400</text>
<text transform="translate(384.60,253.05) scale(1.06,1)" font-size="12.3" text-anchor="end">1.2</text>
<text transform="translate(384.60,265.25) scale(1.06,1)" font-size="12.3" text-anchor="end">1.0</text>
<text transform="translate(384.60,277.45) scale(1.06,1)" font-size="12.3" text-anchor="end">0.8</text>
<text transform="translate(384.60,296.15) scale(1.06,1)" font-size="12.3" text-anchor="end">1.2</text>
<text transform="translate(384.60,308.35) scale(1.06,1)" font-size="12.3" text-anchor="end">1.0</text>
<text transform="translate(384.60,320.55) scale(1.06,1)" font-size="12.3" text-anchor="end">0.8</text>
<text transform="translate(384.60,339.25) scale(1.06,1)" font-size="12.3" text-anchor="end">1.2</text>
<text transform="translate(384.60,351.45) scale(1.06,1)" font-size="12.3" text-anchor="end">1.0</text>
<text transform="translate(384.60,363.65) scale(1.06,1)" font-size="12.3" text-anchor="end">0.8</text>
<rect x="383.30" y="372.65" width="10.2" height="0.95"/>
<text x="398.20" y="377.5" font-size="16" text-anchor="middle">3</text>
<rect x="431.68" y="372.65" width="10.2" height="0.95"/>
<text x="446.58" y="377.5" font-size="16" text-anchor="middle">2</text>
<rect x="480.07" y="372.65" width="10.2" height="0.95"/>
<text x="494.97" y="377.5" font-size="16" text-anchor="middle">1</text>
<text x="537.50" y="377.5" font-size="16" text-anchor="middle">0</text>
<text x="585.88" y="377.5" font-size="16" text-anchor="middle">1</text>
<text x="634.27" y="377.5" font-size="16" text-anchor="middle">2</text>
<text x="682.65" y="377.5" font-size="16" text-anchor="middle">3</text>
</svg>
</body></html>
